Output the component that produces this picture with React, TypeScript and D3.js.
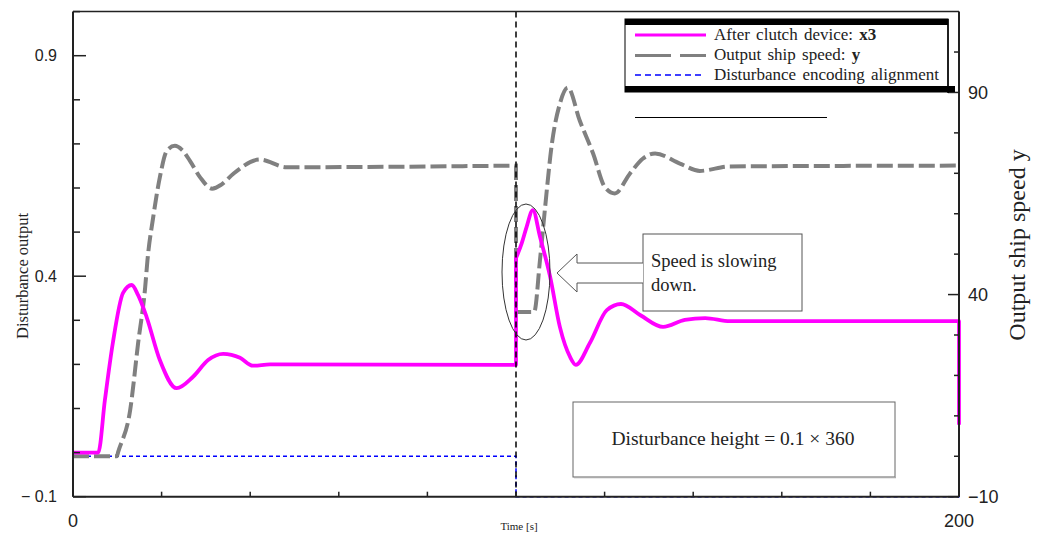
import React from "react";
import * as d3 from "d3";

// ---- data ----
const timeX3 = [0, 5.7, 7.2, 9.0, 11.3, 13.25, 14.7, 16.6, 19.6, 23.4, 27.1, 30.5, 33.9, 37.7, 40.6, 44.5, 100,
  100, 101.3, 102.4, 103.8, 105.4, 107.7, 109.9, 112.2, 113.5, 116.7, 120.5, 123.7, 128.0, 133.2, 138.1, 142.7, 148.3, 200, 200];
const valX3 = [0, 0, 0.119, 0.249, 0.362, 0.38, 0.357, 0.308, 0.21, 0.146, 0.172, 0.21, 0.224, 0.215, 0.197, 0.2, 0.199,
  0.441, 0.475, 0.512, 0.55, 0.49, 0.399, 0.285, 0.217, 0.199, 0.249, 0.323, 0.337, 0.312, 0.285, 0.301, 0.305, 0.298, 0.298, 0.063];

const timeY = [0, 9.9, 10.2, 12.9, 14.7, 16.3, 16.8, 18.1, 19.6, 21.2, 23.0, 24.6, 26.4, 28.7, 31.4, 33.5, 36.2, 42.2, 48.2, 100,
  100, 104.1, 105.4, 106.5, 108.1, 109.9, 111.7, 114.4, 117.4, 120.1, 122.3, 125.7, 128.6, 131.4, 137.0, 141.5, 148.3, 200];
const valY = [0, 0, 1.1, 11.4, 28.0, 41.9, 48.4, 59.1, 69.0, 75.6, 76.8, 75.8, 73.1, 69.0, 66.2, 67.2, 69.9, 73.4, 71.5, 71.9,
  35.7, 35.7, 48.4, 60.8, 77.3, 87.2, 91.2, 83.0, 74.9, 66.5, 65.0, 69.9, 73.6, 74.9, 72.4, 70.6, 71.7, 71.9];

const timeDist = [0, 100, 100, 200, 200];
const valDist = [0, 0, -10, -10, 0];

const leftTicks = [-0.1, 0, 0.1, 0.2, 0.3, 0.4, 0.5, 0.6, 0.7, 0.8, 0.9, 1.0];
const leftLabels = [-0.1, 0.4, 0.9];
const rightTicks = [-10, 0, 10, 20, 30, 40, 50, 60, 70, 80, 90, 100];
const rightLabels = [-10, 40, 90];
const xTicks = [0, 20, 40, 60, 80, 100, 120, 140, 160, 180, 200];
const xLabels = [0, 200];
const disturbanceTime = 100;

const legendItems = ["After clutch device: ", "Output ship speed: ", "Disturbance encoding alignment"];

// Runs of increasing time are smoothed (monotone); equal-time jumps are vertical
function smoothPath(ts: number[], vs: number[], xs: (v: number) => number, ys: (v: number) => number): string {
  const segs: [number, number][][] = [];
  let cur: [number, number][] = [];
  for (let i = 0; i < ts.length; i++) {
    if (cur.length && ts[i] === ts[i - 1]) {
      segs.push(cur);
      cur = [];
    }
    cur.push([xs(ts[i]), ys(vs[i])]);
  }
  segs.push(cur);
  const gen = d3.line().curve(d3.curveMonotoneX);
  let d = "";
  segs.forEach((s, k) => {
    if (s.length === 1) {
      d += (k === 0 ? "M" : "L") + s[0][0] + "," + s[0][1];
      return;
    }
    const p = gen(s) || "";
    if (k === 0) d += p;
    else d += "L" + p.slice(1);
  });
  return d;
}

export default function App() {
  const L = 73, R = 959, T = 11.6, B = 496.7;
  const x = d3.scaleLinear().domain([0, 200]).range([L, R]);
  const yL = d3.scaleLinear().domain([-0.1, 1.0]).range([B, T]);
  const yR = d3.scaleLinear().domain([-10, 110]).range([B, T]);

  const lineD = d3.line<number>().x((_, i) => x(timeDist[i])).y((d) => yR(d));

  const serif = "'Liberation Serif', 'Times New Roman', serif";
  const sans = "'Liberation Sans', Arial, sans-serif";

  const fmtL = (v: number) => (v < 0 ? "− " + Math.abs(v).toFixed(1) : v.toFixed(1));

  return (
    <svg width={1041} height={533} style={{ position: "absolute", left: 0, top: 0, background: "#fff" }}>
      <rect x={0} y={0} width={1041} height={533} fill="#fff" />

      {/* series */}
      <path d={lineD(valDist) || ""} fill="none" stroke="#0000ff" strokeWidth={1.5} strokeDasharray="4,3" />
      <path d={smoothPath(timeY, valY, x, yR)} fill="none" stroke="#808080" strokeWidth={4} strokeDasharray="16,5" />
      <path d={smoothPath(timeX3, valX3, x, yL)} fill="none" stroke="#ff00ff" strokeWidth={3.8} strokeLinejoin="round" />

      {/* disturbance vertical line */}
      <line x1={x(disturbanceTime)} x2={x(disturbanceTime)} y1={T} y2={B} stroke="#000" strokeWidth={1.5} strokeDasharray="6,4" />

      {/* frame */}
      <line x1={L} x2={R} y1={T} y2={T} stroke="#222" strokeWidth={1.5} />
      <line x1={L} x2={L} y1={T} y2={B} stroke="#222" strokeWidth={2} />
      <line x1={R} x2={R} y1={T} y2={B} stroke="#222" strokeWidth={2} />
      <line x1={L} x2={R} y1={B} y2={B} stroke="#222" strokeWidth={2} />

      {/* left ticks */}
      {leftTicks.map((t) => {
        const major = leftLabels.some((l) => Math.abs(l - t) < 1e-9);
        return <line key={"lt" + t} x1={L} x2={L + (major ? 13 : 7)} y1={yL(t)} y2={yL(t)} stroke="#222" strokeWidth={1.5} />;
      })}
      {leftLabels.map((t) => (
        <text key={"ll" + t} x={57} y={yL(t) + 5.5} textAnchor="end" fontFamily={sans} fontSize={16} fill="#222">{fmtL(t)}</text>
      ))}

      {/* right ticks */}
      {rightTicks.map((t) => {
        const major = rightLabels.includes(t);
        return <line key={"rt" + t} x1={R} x2={R - (major ? 11 : 5)} y1={yR(t)} y2={yR(t)} stroke="#222" strokeWidth={1.5} />;
      })}
      {rightLabels.map((t) => (
        <text key={"rl" + t} x={968} y={yR(t) + 6.5} textAnchor="start" fontFamily={sans} fontSize={18} fill="#222">{t < 0 ? "−" + Math.abs(t) : t}</text>
      ))}

      {/* bottom ticks */}
      {xTicks.map((t) => (
        <line key={"xt" + t} x1={x(t)} x2={x(t)} y1={B} y2={B - 5} stroke="#222" strokeWidth={1.5} />
      ))}
      {xLabels.map((t) => (
        <text key={"xl" + t} x={x(t)} y={527} textAnchor="middle" fontFamily={sans} fontSize={18} fill="#222">{t}</text>
      ))}

      {/* axis titles */}
      <text x={519} y={530} textAnchor="middle" fontFamily={serif} fontSize={11} fill="#222">Time  [s]</text>
      <text transform="translate(28,276) rotate(-90)" textAnchor="middle" fontFamily={serif} fontSize={16.5} fill="#222">Disturbance output</text>
      <text transform="translate(1025,245) rotate(-90)" textAnchor="middle" fontFamily={serif} fontSize={24} fill="#222">Output ship speed y</text>

      {/* legend */}
      <rect x={625} y={19} width={323} height={73} fill="#fff" stroke="#000" strokeWidth={1} />
      <rect x={625} y={19} width={323} height={6} fill="#000" />
      <rect x={625} y={86} width={330} height={6} fill="#000" />
      <line x1={948} x2={948} y1={19} y2={93} stroke="#000" strokeWidth={1.5} />
      <line x1={635} x2={706} y1={35} y2={35} stroke="#ff00ff" strokeWidth={3} />
      <line x1={635} x2={706} y1={55.5} y2={55.5} stroke="#808080" strokeWidth={3} strokeDasharray="36,9" />
      <line x1={635} x2={702} y1={75} y2={75} stroke="#0000ff" strokeWidth={1.5} strokeDasharray="6,4" />
      <text x={714} y={40} fontFamily={serif} fontSize={17} fill="#222" wordSpacing={2}>{legendItems[0]}<tspan fontWeight="bold">x3</tspan></text>
      <text x={714} y={60} fontFamily={serif} fontSize={17} fill="#222" wordSpacing={2}>{legendItems[1]}<tspan fontWeight="bold">y</tspan></text>
      <text x={714} y={80} fontFamily={serif} fontSize={17} fill="#222" wordSpacing={2}>{legendItems[2]}</text>

      {/* stray line */}
      <line x1={635} x2={827} y1={117.5} y2={117.5} stroke="#000" strokeWidth={1} />

      {/* ellipse annotation */}
      <ellipse cx={526} cy={272} rx={24} ry={68} fill="none" stroke="#333" strokeWidth={1} />

      {/* callout box with arrow */}
      <rect x={643} y={234} width={159} height={77} fill="#fff" stroke="#555" strokeWidth={1} />
      <path d="M643,263 L577,263 L577,254 L557,273 L577,292 L577,283 L643,283" fill="#fff" stroke="#555" strokeWidth={1} />
      <text x={651} y={267} fontFamily={serif} fontSize={18.5} fill="#222">Speed is slowing</text>
      <text x={651} y={291} fontFamily={serif} fontSize={18.5} fill="#222">down.</text>

      {/* disturbance height box */}
      <rect x={573} y={402} width={322} height={75} fill="#fff" stroke="#666" strokeWidth={1} />
      <line x1={574} x2={896} y1={477.5} y2={477.5} stroke="#aaa" strokeWidth={1.5} />
      <text x={733} y={445} textAnchor="middle" fontFamily={serif} fontSize={19.5} fill="#222">Disturbance height = 0.1 × 360</text>
    </svg>
  );
}
